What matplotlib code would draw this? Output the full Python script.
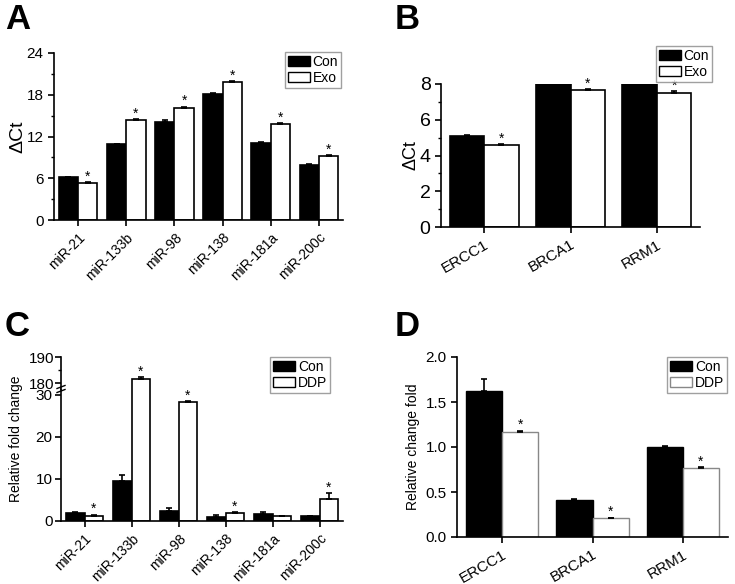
import numpy as np
import matplotlib
matplotlib.use('Agg')
import matplotlib.pyplot as plt
from matplotlib.patches import Patch
from matplotlib.lines import Line2D
from matplotlib.ticker import MultipleLocator

plt.rcParams['font.family'] = ['Liberation Sans', 'DejaVu Sans']

W, H = 735, 584

# ---- data ----
mirs = ['miR-21', 'miR-133b', 'miR-98', 'miR-138', 'miR-181a', 'miR-200c']
genes = ['ERCC1', 'BRCA1', 'RRM1']

a_con = [6.15, 10.9, 14.15, 18.1, 11.0, 7.95]
a_con_err = [0.1, 0.05, 0.15, 0.15, 0.15, 0.12]
a_exo = [5.35, 14.3, 16.1, 19.8, 13.75, 9.15]
a_exo_err = [0.12, 0.2, 0.2, 0.15, 0.12, 0.15]
a_star = [True, True, True, True, True, True]

b_con = [5.1, 8.0, 8.0]
b_con_err = [0.06, 0.0, 0.0]
b_exo = [4.58, 7.66, 7.5]
b_exo_err = [0.08, 0.05, 0.12]

c_con = [1.98, 9.45, 2.45, 1.03, 1.67, 1.1]
c_con_err = [0.15, 1.6, 0.65, 0.5, 0.55, 0.2]
c_ddp = [1.27, 181.5, 28.2, 1.98, 1.1, 5.25]
c_ddp_err = [0.25, 0.7, 0.3, 0.05, 0.05, 1.4]
c_star = [True, True, True, True, False, True]

d_con = [1.62, 0.415, 1.004]
d_con_err = [0.14, 0.005, 0.005]
d_ddp = [1.167, 0.207, 0.763]
d_ddp_err = [0.015, 0.008, 0.015]


def box(l, t, r, b):
    return [l / W, 1 - b / H, (r - l) / W, (b - t) / H]


def style(ax):
    for s in ['top', 'right']:
        ax.spines[s].set_visible(False)
    for s in ['left', 'bottom']:
        ax.spines[s].set_linewidth(1.2)
    ax.tick_params(direction='out', length=4, width=1.2)
    ax.tick_params(which='minor', direction='out', length=2.5, width=1.0)


def bars(ax, con, con_err, trt, trt_err, trt_edge='black', lw=1.2):
    x = np.arange(len(con))
    w = 0.4
    ax.bar(x - w / 2, con, w, color='black', edgecolor='black', linewidth=lw,
           yerr=[np.zeros(len(con)), con_err], capsize=2.5,
           error_kw=dict(elinewidth=1.2, capthick=1.2, ecolor='black'))
    ax.bar(x + w / 2, trt, w, color='white', edgecolor=trt_edge, linewidth=lw,
           yerr=[np.zeros(len(trt)), trt_err], capsize=2.5,
           error_kw=dict(elinewidth=1.2, capthick=1.2, ecolor='black'))
    ax.set_xlim(-0.5, len(con) - 0.5)
    ax.set_xticks(x)
    return x + w / 2


def stars(ax, xs, vals, errs, flags, fs=10):
    for xi, v, e, f in zip(xs, vals, errs, flags):
        if f:
            ax.annotate('*', (xi, v + e), xytext=(0, 1), textcoords='offset points',
                        ha='center', va='baseline', fontsize=fs, annotation_clip=False)


def legend(fig, labels, right, top, edge='black'):
    handles = [Patch(facecolor='black', edgecolor='black'),
               Patch(facecolor='white', edgecolor=edge, linewidth=1.0)]
    fig.legend(handles, labels, loc='upper right',
               bbox_to_anchor=(right / W, 1 - top / H), bbox_transform=fig.transFigure,
               fontsize=10, frameon=True, fancybox=False, edgecolor='#888888',
               borderpad=0.2, handlelength=1.6, handleheight=0.75, handletextpad=0.2,
               labelspacing=0.15, borderaxespad=0)


fig = plt.figure(figsize=(W / 100, H / 100), dpi=100)

# ---- A ----
axA = fig.add_axes(box(54, 53, 343, 220))
style(axA)
xs = bars(axA, a_con, a_con_err, a_exo, a_exo_err)
stars(axA, xs, a_exo, a_exo_err, a_star)
axA.set_ylim(0, 24)
axA.set_yticks([0, 6, 12, 18, 24])
axA.yaxis.set_minor_locator(MultipleLocator(3))
axA.set_xticklabels(mirs, rotation=45, ha='right', rotation_mode='anchor', fontsize=10)
axA.tick_params(axis='y', labelsize=11)
axA.set_ylabel('ΔCt', fontsize=14, labelpad=0)
legend(fig, ['Con', 'Exo'], 341, 52)

# ---- B ----
axB = fig.add_axes(box(441, 84, 700, 227))
style(axB)
xs = bars(axB, b_con, b_con_err, b_exo, b_exo_err)
stars(axB, xs, b_exo, b_exo_err, [True, True, True])
axB.set_ylim(0, 8)
axB.set_yticks([0, 2, 4, 6, 8])
axB.yaxis.set_minor_locator(MultipleLocator(1))
axB.set_xticklabels(genes, rotation=30, ha='right', rotation_mode='anchor', fontsize=11)
axB.tick_params(axis='y', labelsize=14)
axB.set_ylabel('ΔCt', fontsize=13, labelpad=0)
legend(fig, ['Con', 'Exo'], 712, 46)

# ---- C (broken axis) ----
axC = fig.add_axes(box(61, 389, 343, 521))
axCt = fig.add_axes(box(61, 357, 343, 389))
style(axC)
style(axCt)
xs = bars(axC, c_con, c_con_err, c_ddp, c_ddp_err)
bars(axCt, c_con, c_con_err, c_ddp, c_ddp_err)
stars(axC, xs, c_ddp, c_ddp_err, [f and v < 30 for f, v in zip(c_star, c_ddp)])
stars(axCt, xs, c_ddp, c_ddp_err, [f and v > 30 for f, v in zip(c_star, c_ddp)])
axC.set_ylim(0, 31.4)
axC.set_yticks([0, 10, 20, 30])
axCt.set_ylim(177.7, 190)
axCt.set_yticks([180, 190])
axCt.yaxis.set_minor_locator(MultipleLocator(5))
axCt.spines['bottom'].set_visible(False)
axCt.set_xticks([])
axC.set_xticklabels(mirs, rotation=45, ha='right', rotation_mode='anchor', fontsize=10)
axC.tick_params(axis='y', labelsize=11, pad=2)
axCt.tick_params(axis='y', labelsize=11, pad=1)
axC.set_ylabel('Relative fold change', fontsize=10)
axC.yaxis.set_label_coords(-0.135, 0.62)
# break marks on the y axis
for dy in (-2, 2):
    fig.add_artist(Line2D([(61 - 4) / W, (61 + 4) / W],
                          [1 - (389 + dy + 1.5) / H, 1 - (389 + dy - 1.5) / H],
                          color='black', linewidth=1.0))
legend(fig, ['Con', 'DDP'], 330, 357)

# ---- D ----
axD = fig.add_axes(box(457, 357, 728, 537))
style(axD)
xs = bars(axD, d_con, d_con_err, d_ddp, d_ddp_err, trt_edge='#888888', lw=1.0)
stars(axD, xs, d_ddp, d_ddp_err, [True, True, True])
axD.set_ylim(0, 2.0)
axD.set_yticks([0, 0.5, 1.0, 1.5, 2.0])
axD.set_yticklabels(['0.0', '0.5', '1.0', '1.5', '2.0'])
axD.set_xticklabels(genes, rotation=30, ha='right', rotation_mode='anchor', fontsize=11)
axD.tick_params(axis='y', labelsize=11)
axD.set_ylabel('Relative change fold', fontsize=10, labelpad=4)
legend(fig, ['Con', 'DDP'], 727, 357, edge='#888888')

# ---- panel letters ----
for lab, x, y in [('A', 5, 3), ('B', 395, 3), ('C', 5, 310), ('D', 395, 310)]:
    fig.text(x / W, 1 - y / H, lab, fontsize=25, fontweight='bold', va='top', ha='left')

fig.savefig('out.png', dpi=100)
